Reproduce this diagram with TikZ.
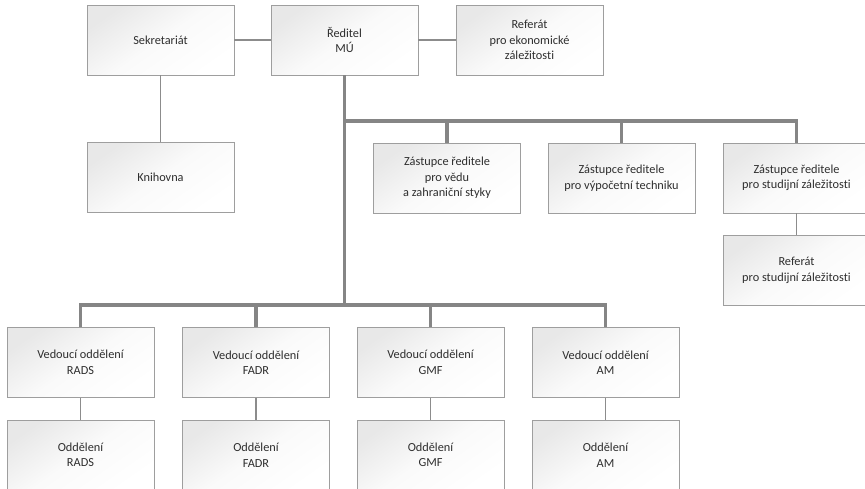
\documentclass[tikz,border=0pt]{standalone}
\usepackage{fontspec}
\setmainfont{Carlito}[Ligatures=NoCommon]
\begin{document}
\begin{tikzpicture}[x=1pt,y=-1pt,
  box/.style={draw=black!38, line width=0.8pt, minimum width=147pt, minimum height=70pt,
    align=center, inner sep=2pt, top color=black!9, bottom color=white, middle color=black!2, shading angle=35,
    text=black!82, font=\fontsize{12.3pt}{15.5pt}\selectfont},
  thinline/.style={draw=black!45, line width=1.4pt},
  thickline/.style={draw=black!48, line width=3.6pt}]
\path[use as bounding box, clip] (0,0) rectangle (865,488);
% nodes
\node[box] (sek) at (160.5,40) {Sekretariát};
\node[box] (red) at (344.5,40) {Ředitel\\MÚ};
\node[box] (ref) at (529.5,40) {Referát\\pro ekonomické\\záležitosti};
\node[box] (kni) at (160.5,177) {Knihovna};
\node[box] (z1) at (447,178) {Zástupce ředitele\\pro vědu\\a zahraniční styky};
\node[box] (z2) at (621.5,178) {Zástupce ředitele\\pro výpočetní techniku};
\node[box] (z3) at (796.5,178) {Zástupce ředitele\\pro studijní záležitosti};
\node[box] (rs) at (796.5,270.5) {Referát\\pro studijní záležitosti};
\node[box] (v1) at (80.5,362.5) {Vedoucí oddělení\\RADS};
\node[box] (v2) at (256,362.5) {Vedoucí oddělení\\FADR};
\node[box] (v3) at (430.5,362.5) {Vedoucí oddělení\\GMF};
\node[box] (v4) at (605.5,362.5) {Vedoucí oddělení\\AM};
\node[box] (o1) at (80.5,455) {Oddělení\\RADS};
\node[box] (o2) at (256,455) {Oddělení\\FADR};
\node[box] (o3) at (430.5,455) {Oddělení\\GMF};
\node[box] (o4) at (605.5,455) {Oddělení\\AM};
\coordinate (hub) at (344.5,121);
\coordinate (hubb) at (344.5,305);
% thin connectors
\draw[thinline] (sek.east) -- (red.west);
\draw[thinline] (red.east) -- (ref.west);
\draw[thinline] (sek.south) -- (kni.north);
\draw[thinline] (z3.south) -- (rs.north);
\draw[thinline] (v1.south) -- (o1.north);
\draw[thinline] (v2.south) -- (o2.north);
\draw[thinline] (v3.south) -- (o3.north);
\draw[thinline] (v4.south) -- (o4.north);
% thick connectors
\draw[thickline] (red.south) -- (hubb);
\draw[thickline] (hub) -| (z1.north);
\draw[thickline] (hub) -| (z2.north);
\draw[thickline] (hub) -| (z3.north);
\draw[thickline] (hubb) -| (v1.north);
\draw[thickline] (hubb) -| (v2.north);
\draw[thickline] (hubb) -| (v3.north);
\draw[thickline] (hubb) -| (v4.north);
\end{tikzpicture}
\end{document}
